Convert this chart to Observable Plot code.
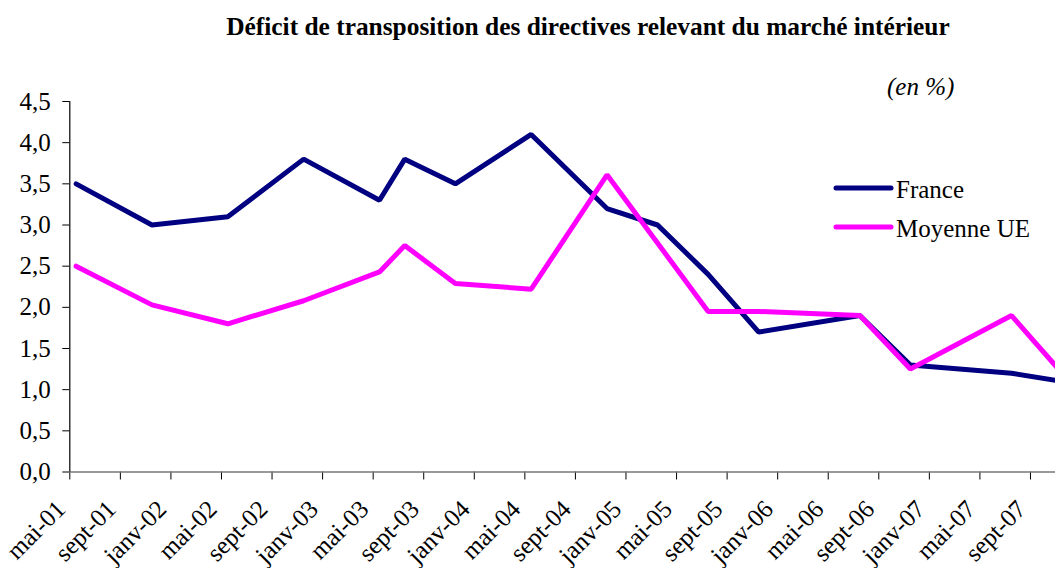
<!DOCTYPE html>
<html>
<head>
<meta charset="utf-8">
<script src="https://cdn.jsdelivr.net/npm/d3@7"></script>
<script src="https://cdn.jsdelivr.net/npm/@observablehq/plot@0.6"></script>
<style>
  html, body { margin: 0; padding: 0; background: #fff; }
  #wrap { position: relative; width: 1055px; height: 568px; overflow: hidden; }
  #overlay { position: absolute; left: 0; top: 0; pointer-events: none; }
  svg text { font-family: "Liberation Serif", "DejaVu Serif", serif; }
</style>
</head>
<body>
<div id="wrap">
  <div id="chart"></div>
  <svg id="overlay" width="1055" height="568" xmlns="http://www.w3.org/2000/svg">
    <text x="588" y="35" text-anchor="middle" font-weight="bold" font-size="25.4" fill="#000">Déficit de transposition des directives relevant du marché intérieur</text>
    <text x="887" y="95" font-style="italic" font-size="25" fill="#000">(en %)</text>
    <line x1="836" y1="188" x2="891" y2="188" stroke="#000080" stroke-width="5" stroke-linecap="round"/>
    <text x="896" y="198" font-size="25" fill="#000">France</text>
    <line x1="836" y1="227" x2="891" y2="227" stroke="#FF00FF" stroke-width="5" stroke-linecap="round"/>
    <text x="896" y="237" font-size="25" fill="#000">Moyenne UE</text>
  </svg>
</div>
<script>
// Observation dates (year-month)
const franceDates = ["2001-05","2001-11","2002-05","2002-11","2003-05","2003-07","2003-11","2004-05","2004-11","2005-03","2005-07","2005-11","2006-07","2006-11","2007-07","2007-11"];
const franceValues = [3.5, 3.0, 3.1, 3.8, 3.3, 3.8, 3.5, 4.1, 3.2, 3.0, 2.4, 1.7, 1.9, 1.3, 1.2, 1.1];

const ueDates = ["2001-05","2001-11","2002-05","2002-11","2003-05","2003-07","2003-11","2004-05","2004-11","2005-07","2005-11","2006-07","2006-11","2007-07","2007-11"];
const ueValues = [2.5, 2.03, 1.8, 2.08, 2.43, 2.75, 2.29, 2.22, 3.61, 1.95, 1.95, 1.9, 1.25, 1.9, 1.2];

const tickLabels = ["mai-01","sept-01","janv-02","mai-02","sept-02","janv-03","mai-03","sept-03","janv-04","mai-04","sept-04","janv-05","mai-05","sept-05","janv-06","mai-06","sept-06","janv-07","mai-07","sept-07"];
const yTicks = [0, 0.5, 1, 1.5, 2, 2.5, 3, 3.5, 4, 4.5];

// month index counted from mai-01
const monthIndex = s => { const [y, m] = s.split("-").map(Number); return (y - 2001) * 12 + (m - 5); };
const france = franceDates.map((d, i) => ({m: monthIndex(d), v: franceValues[i]}));
const ue = ueDates.map((d, i) => ({m: monthIndex(d), v: ueValues[i]}));
const labelPos = tickLabels.map((_, i) => i * 4);
const boundaries = tickLabels.map((_, i) => i * 4 - 0.5);

const font = "Liberation Serif, DejaVu Serif, serif";

const chart = Plot.plot({
  width: 1055,
  height: 568,
  marginLeft: 69.3,
  marginRight: 0,
  marginTop: 101,
  marginBottom: 96.5,
  style: {fontFamily: font, fontSize: "25px", color: "#000", background: "#fff"},
  x: {type: "linear", domain: [-0.5, 77.48]},
  y: {domain: [0, 4.5]},
  marks: [
    Plot.axisY({ticks: yTicks, label: null, tickSize: 7, tickPadding: 12, tickFormat: d => d.toFixed(1).replace(".", ","), fontSize: 25, stroke: "#000", fill: "#000"}),
    Plot.axisX({ticks: boundaries, label: null, tickSize: 8, tickFormat: () => "", stroke: "#000"}),
    Plot.axisX({ticks: labelPos, label: null, tickSize: 0, tickPadding: 33, tickRotate: -45, textAnchor: "end", lineAnchor: "middle", dx: -15, tickFormat: (d, i) => tickLabels[i], fontSize: 25, fill: "#000"}),
    Plot.ruleY([0], {stroke: "#777", strokeWidth: 1.5}),
    Plot.ruleX([-0.5], {stroke: "#000", strokeWidth: 1.2}),
    Plot.line(france, {x: "m", y: "v", stroke: "#000080", strokeWidth: 5, clip: true, strokeLinejoin: "miter"}),
    Plot.line(ue, {x: "m", y: "v", stroke: "#FF00FF", strokeWidth: 5, clip: true, strokeLinejoin: "miter"})
  ]
});
document.getElementById("chart").appendChild(chart);
</script>
</body>
</html>
